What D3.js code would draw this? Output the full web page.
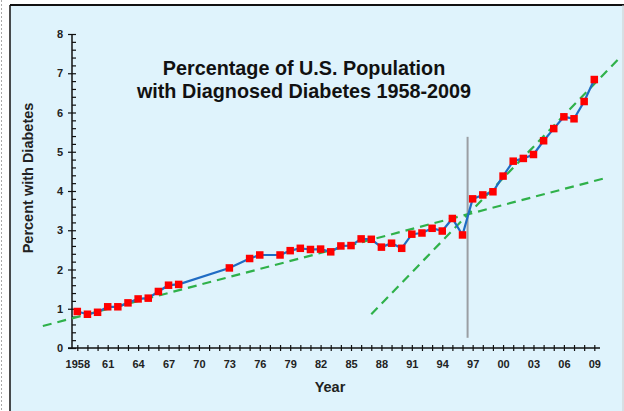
<!DOCTYPE html>
<html>
  <head>
    <meta charset="UTF-8"/>
    <script src="https://d3js.org/d3.v7.min.js"></script>
    <style>
      body{ margin:0; background:white; }
      svg{ display:block; font-family:"Liberation Sans", Arial, sans-serif; }
      .tick text{ font-weight:bold; font-size:11px; fill:#222; }
    </style>
  </head>
  <body>
    <script>
      // data
      const years = [1958,1959,1960,1961,1962,1963,1964,1965,1966,1967,1968,1973,1975,1976,1978,1979,1980,1981,1982,1983,1984,1985,1986,1987,1988,1989,1990,1991,1992,1993,1994,1995,1996,1997,1998,1999,2000,2001,2002,2003,2004,2005,2006,2007,2008,2009];
      const percent = [0.93,0.86,0.91,1.05,1.05,1.15,1.25,1.27,1.44,1.60,1.62,2.04,2.28,2.37,2.37,2.48,2.54,2.51,2.52,2.45,2.60,2.61,2.78,2.77,2.57,2.67,2.54,2.90,2.93,3.05,2.98,3.30,2.88,3.80,3.90,3.98,4.38,4.76,4.83,4.93,5.28,5.59,5.89,5.84,6.28,6.84];
      const xLabels = ['1958','61','64','67','70','73','76','79','82','85','88','91','94','97','00','03','06','09'];
      const yTicks = [0,1,2,3,4,5,6,7,8];
      const trendEarly = [[1954.6,0.56],[2010.4,4.35]];
      const trendLate = [[1987.0,0.86],[2011.3,7.34]];
      const breakLine = [[1996.5,0.26],[1996.5,5.38]];

      const width = 624, height = 411;

      const svg = d3.select('body').append('svg')
                    .attr('width', width)
                    .attr('height', height);

      // frame
      svg.append('line').attr('x1',1.5).attr('x2',1.5).attr('y1',0).attr('y2',height)
         .attr('stroke','#aaa').attr('stroke-dasharray','2,2');
      svg.append('rect')
         .attr('x',10).attr('y',5).attr('width',width-10).attr('height',height)
         .attr('fill','#dff3fc').attr('stroke','none');
      svg.append('line').attr('x1',10).attr('x2',width).attr('y1',5).attr('y2',5)
         .attr('stroke','#111').attr('stroke-width',2);
      svg.append('line').attr('x1',10).attr('x2',10).attr('y1',5).attr('y2',height)
         .attr('stroke','#111').attr('stroke-width',1.5);
      svg.append('line').attr('x1',width-1).attr('x2',width-1).attr('y1',5).attr('y2',height)
         .attr('stroke','#ccc').attr('stroke-width',1);

      const x = d3.scaleLinear().domain([1958,2009]).range([77.3,594.3]);
      const y = d3.scaleLinear().domain([0,8]).range([348,34]);
      const axisX = 72;

      // y axis
      const minor = d3.range(0,8.01,0.2);
      svg.append('g').attr('transform','translate(' + axisX + ',0)')
         .call(d3.axisRight(y).tickValues(minor).tickSize(4).tickFormat(''))
         .call(g => g.select('.domain').remove());
      svg.append('g').attr('transform','translate(' + axisX + ',0)')
         .call(d3.axisLeft(y).tickValues(yTicks).tickSize(4).tickPadding(5).tickFormat(d3.format('d')))
         .call(g => g.select('.domain').remove());
      svg.append('line').attr('x1',axisX).attr('x2',axisX).attr('y1',y(8)).attr('y2',y(0))
         .attr('stroke','#111').attr('stroke-width',1.5);
      svg.selectAll('g line').attr('stroke','#111').attr('stroke-width',1.2);

      // x axis
      const allYears = d3.range(1958,2010);
      const xAxis = svg.append('g').attr('transform','translate(0,' + (y(0)-3) + ')')
         .call(d3.axisBottom(x).tickValues(allYears).tickSize(6).tickPadding(9)
               .tickFormat(d => (d - 1958) % 3 === 0 ? xLabels[(d - 1958) / 3] : ''));
      xAxis.select('.domain').remove();
      xAxis.selectAll('line').attr('stroke','#111').attr('stroke-width',1.2);
      svg.append('line').attr('x1',68).attr('x2',600).attr('y1',y(0)).attr('y2',y(0))
         .attr('stroke','#111').attr('stroke-width',1.5);

      // trend lines
      const line = d3.line().x(d => x(d[0])).y(d => y(d[1]));
      svg.append('path').datum(breakLine).attr('d',line)
         .attr('stroke','#9a9ea3').attr('stroke-width',2).attr('fill','none');
      [trendEarly, trendLate].forEach(t => {
        svg.append('path').datum(t).attr('d',line)
           .attr('stroke','#2fb14a').attr('stroke-width',2.2)
           .attr('stroke-dasharray','9,6').attr('fill','none');
      });

      // series
      const pts = years.map((yr,i) => [yr, percent[i]]);
      svg.append('path').datum(pts).attr('d',line)
         .attr('stroke','#1f6cc4').attr('stroke-width',2.2).attr('fill','none');
      svg.selectAll('rect.pt').data(pts).enter().append('rect')
         .attr('class','pt')
         .attr('x',d => x(d[0])-3.75).attr('y',d => y(d[1])-3.75)
         .attr('width',7.5).attr('height',7.5)
         .attr('fill','#f00');

      // titles
      svg.append('text').attr('x',304).attr('y',75).attr('text-anchor','middle')
         .style('font-weight','bold').style('font-size','19.8px').attr('fill','#111')
         .text('Percentage of U.S. Population');
      svg.append('text').attr('x',304).attr('y',98).attr('text-anchor','middle')
         .style('font-weight','bold').style('font-size','19.8px').attr('fill','#111')
         .text('with Diagnosed Diabetes 1958-2009');

      svg.append('text').attr('transform','translate(33,178) rotate(-90)')
         .attr('text-anchor','middle')
         .style('font-weight','bold').style('font-size','14.5px').attr('fill','#222')
         .text('Percent with Diabetes');
      svg.append('text').attr('x',330).attr('y',392).attr('text-anchor','middle')
         .style('font-weight','bold').style('font-size','14.5px').attr('fill','#222')
         .text('Year');
    </script>
  </body>
</html>
